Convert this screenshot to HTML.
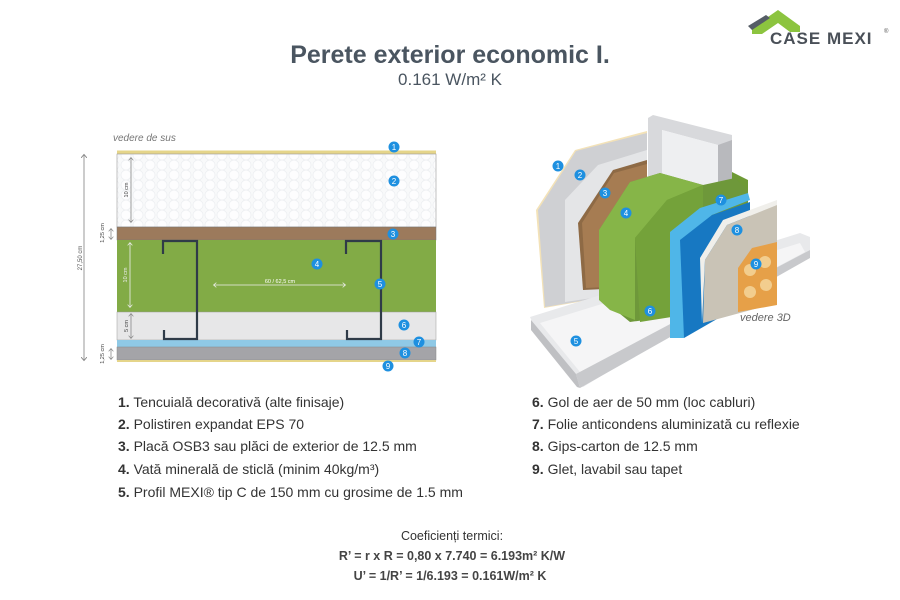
<!DOCTYPE html>
<html><head><meta charset="utf-8"><style>
html,body{margin:0;padding:0;background:#fff;}
svg{display:block;font-family:"Liberation Sans",sans-serif;}
</style></head><body>
<svg width="900" height="600" viewBox="0 0 900 600" xmlns="http://www.w3.org/2000/svg">
<defs>
<pattern id="hex" width="12" height="10" patternUnits="userSpaceOnUse">
<rect width="12" height="10" fill="#f8f9fa"/>
<circle cx="6" cy="5" r="5" fill="#fdfdfe" stroke="#eceef1" stroke-width="0.7"/>
</pattern>
<marker id="ah" viewBox="0 0 10 10" refX="5" refY="5" markerWidth="6" markerHeight="6" orient="auto-start-reverse"><path d="M0,0 L6,5 L0,10" fill="none" stroke="#888" stroke-width="1.5"/></marker>
<marker id="aw" viewBox="0 0 10 10" refX="5" refY="5" markerWidth="6" markerHeight="6" orient="auto-start-reverse"><path d="M0,0 L6,5 L0,10" fill="none" stroke="#eee" stroke-width="1.5"/></marker>
<g id="b"><circle r="5.5" fill="#1e90e0"/></g>
</defs>

<!-- logo -->
<polygon points="752,28 778,10 800,26 800,32 790,32 778,23 762,34 752,34" fill="#8cc43f"/>
<polygon points="748,26 766,15 770,18 752,30" fill="#555d66"/>
<text x="770" y="44" font-size="17" font-weight="bold" fill="#4a5058" letter-spacing="1">CASE MEXI</text>
<text x="884" y="33" font-size="6" fill="#555">®</text>

<!-- title -->
<text x="450" y="63" text-anchor="middle" font-size="25" font-weight="bold" fill="#4a5560">Perete exterior economic I.</text>
<text x="450" y="85" text-anchor="middle" font-size="17" fill="#4a5560">0.161 W/m² K</text>

<!-- left diagram -->
<text x="113" y="141" font-size="10" font-style="italic" fill="#777">vedere de sus</text>
<rect x="117" y="150.5" width="319" height="4" fill="#e5d58a"/>
<rect x="117" y="154" width="319" height="73" fill="url(#hex)" stroke="#999" stroke-width="0.6"/>
<rect x="117" y="227" width="319" height="13" fill="#9c7a5c" stroke="#777" stroke-width="0.5"/>
<rect x="117" y="240" width="319" height="72" fill="#82ab46"/>
<rect x="117" y="312" width="319" height="28" fill="#e7e7e8" stroke="#999" stroke-width="0.5"/>
<rect x="117" y="340" width="319" height="7" fill="#8fc9e6"/>
<rect x="117" y="347" width="319" height="13" fill="#a4a4a8" stroke="#888" stroke-width="0.5"/>
<rect x="117" y="360" width="319" height="2" fill="#e5d58a"/>
<!-- studs -->
<path d="M163,254 V241 H197 V339 H164 V330" fill="none" stroke="#2f3b48" stroke-width="2.2"/>
<path d="M346,254 V241 H381 V339 H347 V330" fill="none" stroke="#2f3b48" stroke-width="2.2"/>
<!-- dims -->
<line x1="84" y1="155" x2="84" y2="360" stroke="#999" stroke-width="1" marker-start="url(#ah)" marker-end="url(#ah)"/>
<text transform="translate(82,258) rotate(-90)" font-size="6" fill="#555" text-anchor="middle">27,50 cm</text>
<line x1="131" y1="158" x2="131" y2="222" stroke="#888" stroke-width="0.8" marker-start="url(#ah)" marker-end="url(#ah)"/>
<text transform="translate(128,190) rotate(-90)" font-size="5.5" fill="#444" text-anchor="middle">10 cm</text>
<line x1="130" y1="243" x2="130" y2="307" stroke="#eee" stroke-width="0.8" marker-start="url(#aw)" marker-end="url(#aw)"/>
<text transform="translate(127,275) rotate(-90)" font-size="5.5" fill="#eee" text-anchor="middle">10 cm</text>
<line x1="131" y1="314" x2="131" y2="338" stroke="#888" stroke-width="0.8" marker-start="url(#ah)" marker-end="url(#ah)"/>
<text transform="translate(128,326) rotate(-90)" font-size="5.5" fill="#444" text-anchor="middle">5 cm</text>
<line x1="111" y1="229" x2="111" y2="239" stroke="#888" stroke-width="0.8" marker-start="url(#ah)" marker-end="url(#ah)"/>
<text transform="translate(104,233) rotate(-90)" font-size="5.5" fill="#444" text-anchor="middle">1,25 cm</text>
<line x1="111" y1="349" x2="111" y2="359" stroke="#888" stroke-width="0.8" marker-start="url(#ah)" marker-end="url(#ah)"/>
<text transform="translate(104,354) rotate(-90)" font-size="5.5" fill="#444" text-anchor="middle">1,25 cm</text>
<line x1="214" y1="285" x2="345" y2="285" stroke="#eee" stroke-width="0.8" marker-start="url(#aw)" marker-end="url(#aw)"/>
<text x="280" y="283" font-size="5.5" fill="#fff" text-anchor="middle">60 / 62,5 cm</text>
<!-- badges left -->
<g font-size="8" fill="#fff" text-anchor="middle">
<use href="#b" x="394" y="147"/><text x="394" y="150">1</text>
<use href="#b" x="394" y="181"/><text x="394" y="184">2</text>
<use href="#b" x="393" y="234"/><text x="393" y="237">3</text>
<use href="#b" x="317" y="264"/><text x="317" y="267">4</text>
<use href="#b" x="380" y="284"/><text x="380" y="287">5</text>
<use href="#b" x="404" y="325"/><text x="404" y="328">6</text>
<use href="#b" x="419" y="342"/><text x="419" y="345">7</text>
<use href="#b" x="405" y="353"/><text x="405" y="356">8</text>
<use href="#b" x="388" y="366"/><text x="388" y="369">9</text>
</g>

<!-- 3D view -->
<polygon points="536,210 575,150 647,131 647,290 544,308" fill="#f3e2b8"/>
<polygon points="538,210 576,151 647,133 647,290 545,307" fill="#cfd0d3"/>
<polygon points="565,302 565,200 598,165 647,150 647,290" fill="#e4e5e7"/>
<polygon points="578,223 613,170 647,160 647,287 583,290" fill="#8e6a45"/>
<polygon points="582,223 614,173 647,164 647,285 586,288" fill="#a67c52"/>
<!-- vertical stud -->
<polygon points="648,118 653,115 732,135 732,200 718,200 718,145 662,130 662,200 648,200" fill="#d8d9dc"/>
<polygon points="662,130 718,145 718,200 662,200" fill="#eeeff1"/>
<polygon points="718,145 732,140 732,200 718,200" fill="#b8b9bd"/>
<!-- track -->
<polygon points="530,317 800,233 810,237 810,250 583,387 575,382 535,328" fill="#e8e9eb"/>
<polygon points="531,320 576,374 580,388 577,387 531,330" fill="#bfc0c3"/>
<polygon points="540,323 800,243 805,252 580,372" fill="#f5f5f6"/>
<polygon points="576,374 810,250 810,258 580,388" fill="#c8c9cc"/>
<!-- green -->
<polygon points="732,172 748,180 748,200 732,210" fill="#6e9a35"/>
<polygon points="599,230 630,182 660,173 703,185 735,178 748,190 748,220 703,312 630,322 603,300" fill="#6e983a"/>
<polygon points="599,230 630,182 660,173 703,185 667,200 635,238 635,320 610,310 599,300" fill="#86b548"/>
<polygon points="635,238 667,200 703,185 703,312 640,322" fill="#74a23a"/>
<!-- blue foil -->
<polygon points="670,232 700,208 748,193 750,200 712,215 684,240 684,338 670,338" fill="#4fb6e8"/>
<polygon points="680,240 712,215 750,202 750,300 684,338" fill="#1778c2"/>
<!-- gypsum -->
<polygon points="700,258 723,220 777,200 777,205 727,225 705,260 702,323" fill="#f0efeb"/>
<polygon points="705,260 727,225 777,205 777,303 703,323" fill="#c9c3b6"/>
<polygon points="738,268 752,248 777,242 777,305 738,312" fill="#e6a048"/>
<g fill="#f6d9a0" opacity="0.8"><circle cx="750" cy="270" r="6"/><circle cx="765" cy="262" r="6"/><circle cx="750" cy="292" r="6"/><circle cx="766" cy="285" r="6"/></g>
<text x="740" y="321" font-size="11" font-style="italic" fill="#666">vedere 3D</text>
<g font-size="8" fill="#fff" text-anchor="middle">
<use href="#b" x="558" y="166"/><text x="558" y="169">1</text>
<use href="#b" x="580" y="175"/><text x="580" y="178">2</text>
<use href="#b" x="605" y="193"/><text x="605" y="196">3</text>
<use href="#b" x="626" y="213"/><text x="626" y="216">4</text>
<use href="#b" x="576" y="341"/><text x="576" y="344">5</text>
<use href="#b" x="650" y="311"/><text x="650" y="314">6</text>
<use href="#b" x="721" y="200"/><text x="721" y="203">7</text>
<use href="#b" x="737" y="230"/><text x="737" y="233">8</text>
<use href="#b" x="756" y="264"/><text x="756" y="267">9</text>
</g>

<!-- legend -->
<g font-size="14" fill="#333">
<text x="118" y="407"><tspan font-weight="bold">1.</tspan> Tencuială decorativă (alte finisaje)</text>
<text x="118" y="429"><tspan font-weight="bold">2.</tspan> Polistiren expandat EPS 70</text>
<text x="118" y="451"><tspan font-weight="bold">3.</tspan> Placă OSB3 sau plăci de exterior de 12.5 mm</text>
<text x="118" y="474"><tspan font-weight="bold">4.</tspan> Vată minerală de sticlă (minim 40kg/m³)</text>
<text x="118" y="497"><tspan font-weight="bold">5.</tspan> Profil MEXI® tip C de 150 mm cu grosime de 1.5 mm</text>
<text x="532" y="407"><tspan font-weight="bold">6.</tspan> Gol de aer de 50 mm (loc cabluri)</text>
<text x="532" y="429"><tspan font-weight="bold">7.</tspan> Folie anticondens aluminizată cu reflexie</text>
<text x="532" y="451"><tspan font-weight="bold">8.</tspan> Gips-carton de 12.5 mm</text>
<text x="532" y="474"><tspan font-weight="bold">9.</tspan> Glet, lavabil sau tapet</text>
</g>
<g font-size="12.5" fill="#333" text-anchor="middle">
<text x="452" y="540">Coeficienți termici:</text>
<text x="452" y="560" font-weight="bold" fill="#444">R’ = r x R = 0,80 x 7.740 = 6.193m² K/W</text>
<text x="450" y="580" font-weight="bold" fill="#444">U’ = 1/R’ = 1/6.193 = 0.161W/m² K</text>
</g>
</svg>
</body></html>
